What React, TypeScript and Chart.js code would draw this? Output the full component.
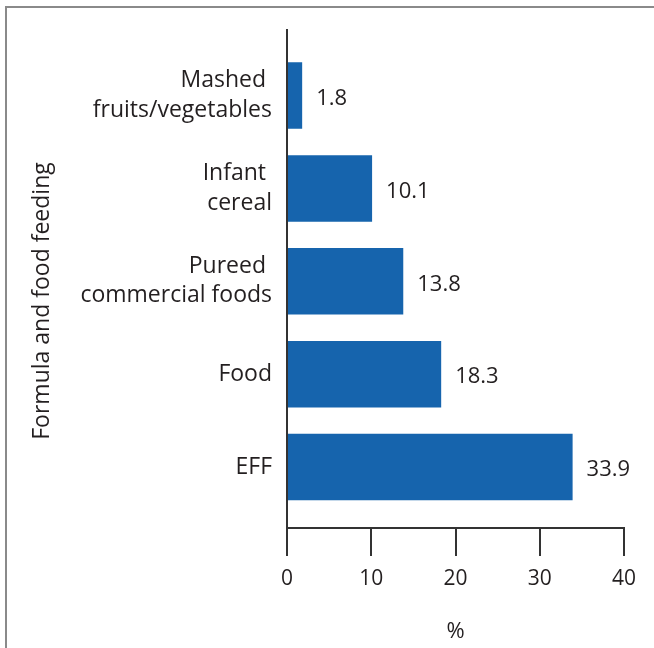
import React, { useEffect, useRef } from "react";
import { Chart, registerables } from "chart.js";

Chart.register(...registerables);

const categories: string[][] = [
  ["Mashed ", "fruits/vegetables"],
  ["Infant ", "cereal"],
  ["Pureed ", "commercial foods"],
  ["Food"],
  ["EFF"],
];
const values: number[] = [1.8, 10.1, 13.8, 18.3, 33.9];
const xTickValues: number[] = [0, 10, 20, 30, 40];
const xTitle = "%";
const yTitle = "Formula and food feeding";

const FONT = "'Open Sans', 'Noto Sans', sans-serif";
const TEXT = "#231f20";
const AXIS = "#333333";
const BAR = "#1664ad";

export default function App() {
  const ref = useRef<HTMLCanvasElement>(null);

  useEffect(() => {
    if (!ref.current) return;

    const labelPlugin = {
      id: "valueLabels",
      afterDatasetsDraw(chart: any) {
        const ctx = chart.ctx;
        const meta = chart.getDatasetMeta(0);
        ctx.save();
        ctx.font = `22px ${FONT}`;
        ctx.fillStyle = TEXT;
        ctx.textAlign = "left";
        ctx.textBaseline = "middle";
        meta.data.forEach((el: any, i: number) => {
          ctx.fillText(String(values[i]), el.x + 14, el.y + 3);
        });
        const ca = chart.chartArea;
        ctx.textAlign = "center";
        ctx.fillText(xTitle, (ca.left + ca.right) / 2, chart.height - 16);
        ctx.font = `23px ${FONT}`;
        ctx.translate(42, 301);
        ctx.rotate(-Math.PI / 2);
        ctx.fillText(yTitle, 0, 0);
        ctx.restore();
      },
    };

    const chart = new Chart(ref.current, {
      type: "bar",
      data: {
        datasets: [
          {
            data: values.map((v, i) => ({ x: v, y: i })),
            backgroundColor: BAR,
            borderWidth: 0,
            barPercentage: 0.715,
            categoryPercentage: 1,
          },
        ],
      },
      options: {
        indexAxis: "y",
        responsive: false,
        animation: false,
        layout: { padding: { top: 25, right: 30, left: 0, bottom: 0 } },
        plugins: {
          legend: { display: false },
          tooltip: { enabled: false },
        },
        scales: {
          x: {
            type: "linear",
            position: "bottom",
            min: xTickValues[0],
            max: xTickValues[xTickValues.length - 1],
            afterBuildTicks: (s: any) => {
              s.ticks = xTickValues.map((v) => ({ value: v }));
            },
            ticks: {
              color: TEXT,
              font: { family: FONT, size: 21 },
              padding: 10,
              autoSkip: false,
              maxRotation: 0,
            },
            grid: {
              drawOnChartArea: false,
              drawTicks: true,
              tickLength: 28,
              color: AXIS,
              lineWidth: 2,
            },
            border: { display: true, color: AXIS, width: 2 },
            afterFit: (s: any) => {
              s.height = 120;
            },
          },
          y: {
            type: "linear",
            reverse: true,
            offset: false,
            min: -0.71,
            max: 4.656,
            afterBuildTicks: (s: any) => {
              s.ticks = categories.map((_, i) => ({ value: i }));
            },
            ticks: {
              autoSkip: false,
              color: TEXT,
              font: { family: FONT, size: 23, lineHeight: 1.27 },
              padding: 15,
              callback: (v: any) => categories[Math.round(Number(v))] ?? "",
            },
            grid: { display: false, drawTicks: false, offset: false },
            border: { display: true, color: AXIS, width: 2 },
            afterFit: (s: any) => {
              s.width = 287;
            },
          },
        },
      } as any,
      plugins: [labelPlugin],
    });

    return () => chart.destroy();
  }, []);

  return (
    <div
      style={{
        position: "fixed",
        left: 0,
        top: 0,
        width: 654,
        height: 648,
        background: "#ffffff",
        overflow: "hidden",
      }}
    >
      <div
        style={{
          position: "absolute",
          left: 5,
          top: 6,
          width: 700,
          height: 700,
          borderLeft: "2px solid #8a8a8a",
          borderTop: "2px solid #8a8a8a",
        }}
      />
      <canvas
        ref={ref}
        width={654}
        height={648}
        style={{ position: "absolute", left: 0, top: 0 }}
      />
    </div>
  );
}
